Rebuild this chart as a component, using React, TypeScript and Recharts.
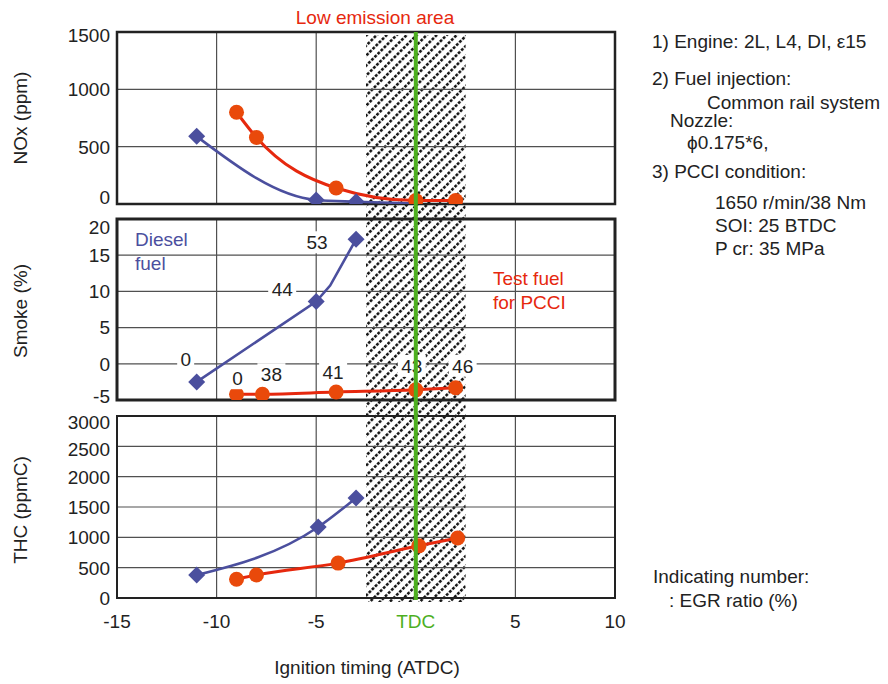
import React from "react";
import {
  LineChart,
  Line,
  XAxis,
  YAxis,
  CartesianGrid,
  ReferenceArea,
  ReferenceLine,
  LabelList,
} from "recharts";

const BLUE = "#4B4F9E";
const RED_LINE = "#E6280E";
const RED_DOT = "#E9490B";
const GREEN = "#4DAF1F";
const GRID = "#505050";
const INK = "#222";
const FONT = "'Liberation Sans', Arial, sans-serif";
const FS = 19;

// shared x axis: ignition timing (ATDC)
const X_DOMAIN: [number, number] = [-15, 10];
const X_TICKS = [-15, -10, -5, 0, 5, 10];
const TDC = 0;
const LOW_EMISSION: [number, number] = [-2.5, 2.5];

// NOx (ppm)
const NOX_DOMAIN: [number, number] = [0, 1500];
const NOX_TICKS = [0, 500, 1000, 1500];
const NOX_DIESEL = [
  { x: -11, y: 590 },
  { x: -5, y: 35 },
  { x: -3, y: 20 },
  { x: 0, y: 5, m: false },
];
const NOX_TEST = [
  { x: -9, y: 800 },
  { x: -8, y: 580 },
  { x: -4, y: 140 },
  { x: 0, y: 30 },
  { x: 2, y: 30 },
];

// Smoke (%), with EGR ratio labels
const SMOKE_DOMAIN: [number, number] = [-5, 20];
const SMOKE_TICKS = [-5, 0, 5, 10, 15, 20];
const SMOKE_DIESEL = [
  { x: -11, y: -2.5, egr: "0" },
  { x: -5, y: 8.6, egr: "44" },
  { x: -4.3, y: 10.8, m: false },
  { x: -3, y: 17.2, egr: "53" },
];
const SMOKE_TEST = [
  { x: -9, y: -4.2, egr: "0" },
  { x: -7.7, y: -4.2, egr: "38" },
  { x: -4, y: -3.9, egr: "41" },
  { x: 0, y: -3.6, egr: "43" },
  { x: 2, y: -3.3, egr: "46" },
];

// THC (ppmC)
const THC_DOMAIN: [number, number] = [0, 3000];
const THC_TICKS = [0, 500, 1000, 1500, 2000, 2500, 3000];
const THC_DIESEL = [
  { x: -11, y: 380 },
  { x: -4.9, y: 1170 },
  { x: -3, y: 1650 },
];
const THC_TEST = [
  { x: -9, y: 310 },
  { x: -8, y: 380 },
  { x: -3.9, y: 575 },
  { x: 0.15, y: 860 },
  { x: 2.1, y: 990 },
];

// label nudges (px) for the EGR numbers
const DIESEL_LABEL_NUDGE = [[-11, -23], [-34, -12], [0, 0], [-39, 3]];
const TEST_LABEL_NUDGE = [[1, -16], [9, -20], [-3, -20], [-4, -24], [7, -22]];

const NOTES = [
  { t: "1) Engine: 2L, L4, DI, \u03b515", x: 652, y: 42 },
  { t: "2) Fuel injection:", x: 652, y: 79 },
  { t: "Common rail system", x: 707, y: 103 },
  { t: "Nozzle:", x: 670, y: 121 },
  { t: "\u03d50.175*6,", x: 687, y: 143 },
  { t: "3) PCCI condition:", x: 652, y: 172 },
  { t: "1650 r/min/38 Nm", x: 715, y: 203 },
  { t: "SOI: 25 BTDC", x: 715, y: 226 },
  { t: "P cr: 35 MPa", x: 715, y: 249 },
  { t: "Indicating number:", x: 653, y: 577 },
  { t: ": EGR ratio (%)", x: 669, y: 601 },
];

function Diamond(props: any) {
  const { cx, cy, payload } = props;
  if (payload?.m === false || cx == null) return <g key={props.index} />;
  const r = 8.5;
  return (
    <polygon
      key={props.index}
      points={`${cx},${cy - r} ${cx + r},${cy} ${cx},${cy + r} ${cx - r},${cy}`}
      fill={BLUE}
    />
  );
}

function Dot(props: any) {
  const { cx, cy } = props;
  if (cx == null) return <g key={props.index} />;
  return <circle key={props.index} cx={cx} cy={cy} r={7.5} fill={RED_DOT} />;
}

function YTick(props: any) {
  const { x, y, payload, shifts } = props;
  const s = shifts?.[payload.value] ?? 0;
  return (
    <text x={x} y={y + s} dy="0.36em" textAnchor="end" fill={INK} fontSize={FS} fontFamily={FONT}>
      {payload.value}
    </text>
  );
}

function XTick(props: any) {
  const { x, y, payload } = props;
  const tdc = payload.value === TDC;
  return (
    <text x={x} y={y + 28} textAnchor="middle" fill={tdc ? GREEN : INK} fontSize={FS} fontFamily={FONT}>
      {tdc ? "TDC" : payload.value}
    </text>
  );
}

function egrLabel(nudge: number[][]) {
  return (props: any) => {
    const { x, y, value, index } = props;
    if (value == null || value === "") return null;
    const [dx, dy] = nudge[index] ?? [0, -18];
    const cx = x + dx;
    const cy = y + dy;
    const w = String(value).length * 11 + 6;
    return (
      <g key={index}>
        <rect x={cx - w / 2} y={cy - 11} width={w} height={22} fill="#fff" />
        <text x={cx} y={cy} dy="0.36em" textAnchor="middle" fill={INK} fontSize={FS} fontFamily={FONT}>
          {value}
        </text>
      </g>
    );
  };
}

const W = 640;
const H = 684;

function Panel({
  top,
  bottom,
  domain,
  ticks,
  shifts,
  border,
  showX,
  children,
}: any) {
  return (
    <div style={{ position: "absolute", left: 0, top: 0 }}>
      <LineChart
        width={W}
        height={H}
        margin={{ top, right: 25, left: 57, bottom: showX ? H - bottom - 40 : H - bottom }}
      >
        <CartesianGrid stroke={GRID} strokeWidth={1.2} />
        <XAxis
          type="number"
          dataKey="x"
          domain={X_DOMAIN}
          ticks={X_TICKS}
          interval={0}
          hide={!showX}
          height={40}
          axisLine={false}
          tickLine={false}
          tickSize={0}
          tick={XTick}
          allowDataOverflow
        />
        <YAxis
          type="number"
          domain={domain}
          ticks={ticks}
          interval={0}
          width={60}
          axisLine={false}
          tickLine={false}
          tickSize={0}
          tickMargin={7}
          tick={(p: any) => <YTick {...p} shifts={shifts} />}
          allowDataOverflow
        />
        <ReferenceArea
          x1={X_DOMAIN[0]}
          x2={X_DOMAIN[1]}
          y1={domain[0]}
          y2={domain[1]}
          fill="none"
          stroke={INK}
          strokeWidth={border}
          ifOverflow="visible"
        />
        {children}
      </LineChart>
    </div>
  );
}

// full-height layer for the hatched low-emission band or the TDC line
const BAND_EDGES = LOW_EMISSION.map((x, i) => ({ x, y: i }));

function BandChart({ band }: { band: boolean }) {
  return (
    <div style={{ position: "absolute", left: 0, top: 0 }}>
      <LineChart
        width={W}
        height={H}
        data={BAND_EDGES}
        margin={{ top: band ? 35 : 32, right: 25, left: 117, bottom: band ? H - 602 : H - 600 }}
      >
        <defs>
          <pattern
            id="hatch"
            patternUnits="userSpaceOnUse"
            width="4.4"
            height="7.07"
            patternTransform="rotate(-45)"
          >
            <rect x="0" y="0" width="2.9" height="2.5" fill="#111" />
          </pattern>
        </defs>
        <XAxis type="number" dataKey="x" domain={X_DOMAIN} hide allowDataOverflow />
        <YAxis type="number" domain={[0, 1]} hide allowDataOverflow />
        <Line dataKey="y" stroke="none" dot={false} isAnimationActive={false} />
        {band ? (
          <ReferenceArea
            x1={LOW_EMISSION[0]}
            x2={LOW_EMISSION[1]}
            y1={0}
            y2={1}
            fill="url(#hatch)"
            fillOpacity={1}
            ifOverflow="visible"
          />
        ) : (
          <ReferenceLine x={TDC} stroke={GREEN} strokeWidth={4} ifOverflow="visible" />
        )}
      </LineChart>
    </div>
  );
}

function Series({ blue, red, blueType = "monotone", labels }: any) {
  return [
    <Line
      key="red"
      data={red}
      dataKey="y"
      type="monotone"
      stroke={RED_LINE}
      strokeWidth={3}
      dot={Dot}
      isAnimationActive={false}
    >
      {labels && <LabelList dataKey="egr" content={egrLabel(TEST_LABEL_NUDGE)} />}
    </Line>,
    <Line
      key="blue"
      data={blue}
      dataKey="y"
      type={blueType}
      stroke={BLUE}
      strokeWidth={2.6}
      dot={Diamond}
      isAnimationActive={false}
    >
      {labels && <LabelList dataKey="egr" content={egrLabel(DIESEL_LABEL_NUDGE)} />}
    </Line>,
  ];
}

const txt = (style: React.CSSProperties): React.CSSProperties => ({
  position: "absolute",
  fontSize: FS,
  lineHeight: "22px",
  whiteSpace: "nowrap",
  ...style,
});

function YLabel({ text, cy }: { text: string; cy: number }) {
  return (
    <div
      style={txt({
        left: 21,
        top: cy,
        transform: "translate(-50%, -50%) rotate(-90deg)",
      })}
    >
      {text}
    </div>
  );
}

export default function App() {
  return (
    <div
      style={{
        position: "absolute",
        left: 0,
        top: 0,
        width: 888,
        height: 684,
        background: "#fff",
        fontFamily: FONT,
        color: INK,
        overflow: "hidden",
      }}
    >
      <BandChart band />
      <Panel top={32} bottom={204} domain={NOX_DOMAIN} ticks={NOX_TICKS} border={2.5} shifts={{ 0: -7, 1500: 3 }}>
        {Series({ blue: NOX_DIESEL, red: NOX_TEST })}
      </Panel>
      <Panel top={219} bottom={400} domain={SMOKE_DOMAIN} ticks={SMOKE_TICKS} border={3} shifts={{ 20: 8, "-5": -4 }}>
        {Series({ blue: SMOKE_DIESEL, red: SMOKE_TEST, blueType: "linear", labels: true })}
      </Panel>
      <Panel top={416} bottom={598} domain={THC_DOMAIN} ticks={THC_TICKS} border={2} shifts={{ 3000: 6, 2500: 3 }} showX>
        {Series({ blue: THC_DIESEL, red: THC_TEST })}
      </Panel>
      <BandChart band={false} />

      <div style={txt({ left: 375, top: 18, transform: "translate(-50%, -50%)", color: RED_LINE })}>
        Low emission area
      </div>
      <div style={txt({ left: 135, top: 228, color: BLUE, lineHeight: "24px" })}>
        Diesel
        <br />
        fuel
      </div>
      <div style={txt({ left: 493, top: 267, color: RED_LINE, lineHeight: "24px" })}>
        Test fuel
        <br />
        for PCCI
      </div>

      <YLabel text="NOx (ppm)" cy={118} />
      <YLabel text="Smoke (%)" cy={311} />
      <YLabel text="THC (ppmC)" cy={510} />

      <div style={txt({ left: 367, top: 668, transform: "translate(-50%, -50%)" })}>
        Ignition timing (ATDC)
      </div>

      {NOTES.map((n, i) => (
        <div key={i} style={txt({ left: n.x, top: n.y - 11 })}>
          {n.t}
        </div>
      ))}
    </div>
  );
}
